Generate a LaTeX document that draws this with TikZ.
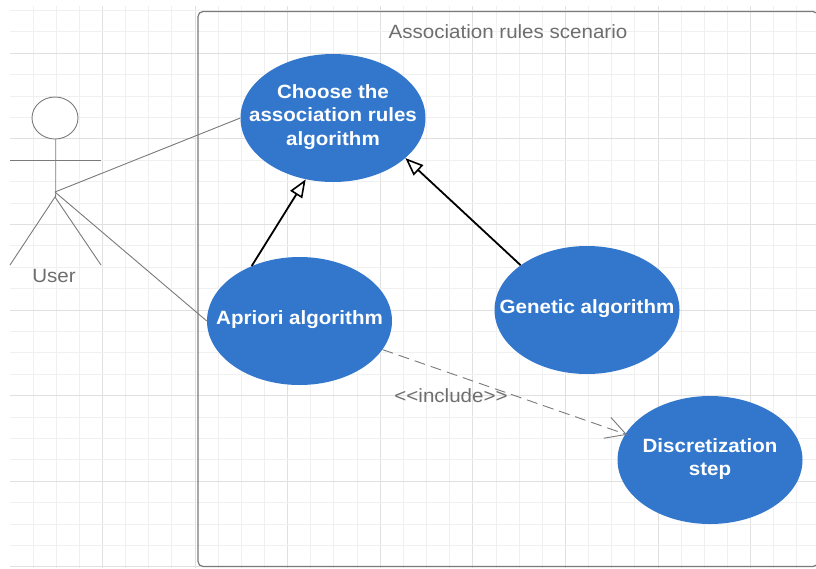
\documentclass[tikz,border=0pt]{standalone}
\usepackage{fontspec}
\setmainfont[FakeStretch=1.07]{Liberation Sans}
\usetikzlibrary{arrows.meta,shapes.geometric}
\definecolor{ucblue}{HTML}{3277CC}
\definecolor{linegray}{HTML}{7A7A7A}
\definecolor{textgray}{HTML}{6E6E6E}
\tikzset{
  x=1pt,y=-1pt,
  usecase/.style={ellipse,fill=ucblue,draw=none,minimum width=185pt,minimum height=128pt,inner sep=0pt},
  casetext/.style={text=white,align=center,inner sep=0pt,yshift=1pt,font=\fontsize{19.2}{23.2}\selectfont\bfseries},
  gridminor/.style={draw=black!6,line width=1pt},
  gridmajor/.style={draw=black!12,line width=1pt},
  actorline/.style={draw=linegray,line width=0.9pt},
  assoc/.style={draw=linegray,line width=0.9pt},
  generalize/.style={draw=black,line width=1.8pt,-{Triangle[open,length=18pt,width=14pt,fill=white,line width=1.6pt]}},
  includes/.style={draw=linegray,line width=0.9pt,dash pattern=on 11pt off 6pt,shorten >=-2pt,-{Straight Barb[length=20pt,width=22pt,line width=0.9pt]}},
  caption/.style={text=textgray,inner sep=0pt,font=\fontsize{19.2}{24}\selectfont},
}
\begin{document}
\begin{tikzpicture}
\useasboundingbox[fill=white] (0,0) rectangle (816,568);
% grid
\foreach \k in {0,...,34}{
  \pgfmathsetmacro{\xv}{33+23.15*\k}
  \pgfmathtruncatemacro{\rm}{mod(\k+1,4)}
  \ifnum\rm=0 \draw[gridmajor] (\xv,6) -- (\xv,568);
  \else \draw[gridminor] (\xv,6) -- (\xv,568); \fi
}
\foreach \k in {0,...,26}{
  \pgfmathsetmacro{\yv}{10.4+21.4*\k}
  \pgfmathtruncatemacro{\rm}{mod(\k+2,4)}
  \ifnum\rm=0 \draw[gridmajor] (10,\yv) -- (816,\yv);
  \else \draw[gridminor] (10,\yv) -- (816,\yv); \fi
}
% scenario frame
\draw[draw=linegray,line width=1.2pt,rounded corners=5pt] (198,11.5) rectangle (818,566.5);
\node[caption] (title) at (508,31.5) {Association rules scenario};
% use cases
\node[usecase,label={[casetext]center:{Choose the\\association rules\\algorithm}}] (choose) at (333,118) {};
\node[usecase,label={[casetext]center:{Apriori algorithm}}] (apriori) at (299.5,321) {};
\node[usecase,label={[casetext]center:{Genetic algorithm}}] (genetic) at (587,310) {};
\node[usecase,label={[casetext]center:{Discretization\\step}}] (discret) at (710,460) {};
% actor
\node[ellipse,draw=linegray,line width=0.9pt,fill=white,minimum width=46pt,minimum height=42pt,inner sep=0pt] (head) at (55,118) {};
\coordinate (hub) at (55,192);
\coordinate (hip) at (55,197);
\coordinate (armL) at (10,160);
\coordinate (armR) at (101,160);
\coordinate (legL) at (10,265);
\coordinate (legR) at (101,265);
\draw[actorline] (head.south) -- (hub) -- (hip);
\draw[actorline] (armL) -- (armR);
\draw[actorline] (legL) -- (hip) -- (legR);
\node[caption] (user) at (54,276) {User};
% connectors
\draw[assoc] (hub) -- (choose.west);
\draw[assoc] (hub) -- (apriori.west);
\draw[generalize] (apriori.131.6) -- (choose.246);
\draw[generalize] (genetic.146) -- (choose.-29);
\draw[includes] (apriori.-19) -- (discret.163);
\node[caption] (inc) at (451,396) {<{}<include>{}>};
\end{tikzpicture}
\end{document}
